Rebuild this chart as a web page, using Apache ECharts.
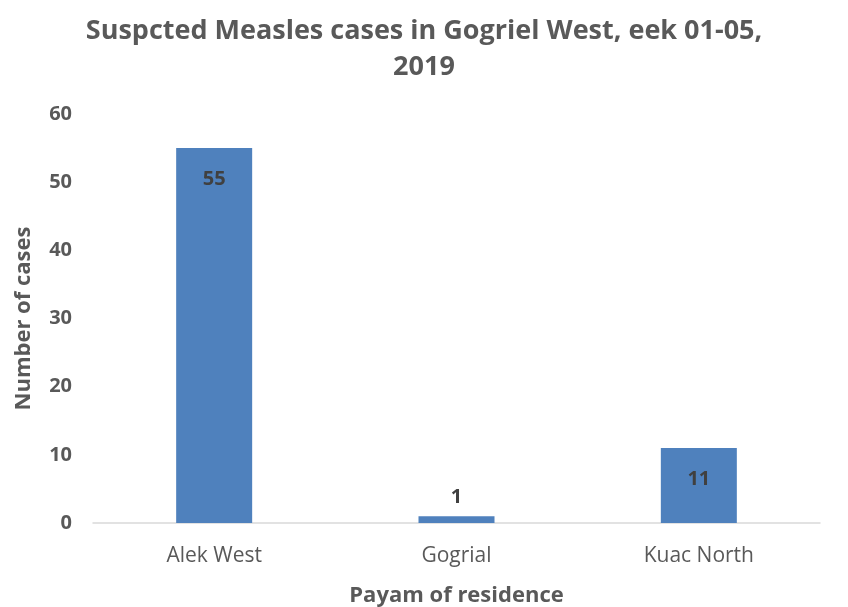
<!DOCTYPE html>
<html><head><meta charset="utf-8">
<script src="https://cdn.jsdelivr.net/npm/echarts@6/dist/echarts.min.js"></script>
<style>html,body{margin:0;padding:0;background:#fff}#c{width:848px;height:607px}</style>
</head><body><div id="c"></div>
<script>
const categories = ['Alek West', 'Gogrial', 'Kuac North'];
const cases = [55, 1, 11];
const yTicks = [0, 10, 20, 30, 40, 50, 60];

const FONT = 'Open Sans';
const chart = echarts.init(document.getElementById('c'));
chart.setOption({
  animation: false,
  title: {
    text: 'Suspcted Measles cases in Gogriel West, eek 01-05,\n2019',
    left: 'center', top: 8,
    textStyle: {fontFamily: FONT, fontSize: 27, fontWeight: 'bold', color: '#595959', lineHeight: 36}
  },
  grid: {left: 93, right: 28, top: 114, bottom: 84, containLabel: false, outerBoundsMode: 'none'},
  xAxis: {
    type: 'category', data: categories,
    name: 'Payam of residence', nameLocation: 'middle', nameGap: 62,
    nameTextStyle: {fontFamily: FONT, fontSize: 22, fontWeight: 'bold', color: '#595959'},
    axisLine: {lineStyle: {color: '#d9d9d9', width: 1.5}},
    axisTick: {show: false},
    axisLabel: {fontFamily: FONT, fontSize: 21, color: '#595959', margin: 23}
  },
  yAxis: {
    type: 'value', min: yTicks[0], max: yTicks[yTicks.length - 1], interval: 10,
    name: 'Number of cases', nameLocation: 'middle', nameGap: 58,
    nameTextStyle: {fontFamily: FONT, fontSize: 22, fontWeight: 'bold', color: '#595959'},
    axisLine: {show: false}, axisTick: {show: false},
    splitLine: {show: false},
    axisLabel: {fontFamily: FONT, fontSize: 20, fontWeight: 'bold', color: '#595959', margin: 21}
  },
  series: [{
    type: 'bar', barWidth: 76,
    data: cases.map(v => v < 5 ? {value: v, label: {position: 'top', distance: 9}} : v),
    itemStyle: {color: '#4f81bd'},
    label: {
      show: true, fontFamily: FONT, fontSize: 20, fontWeight: 'bold', color: '#404040',
      position: 'insideTop', distance: 21,
      formatter: p => String(p.value)
    }
  }]
});
</script>
</body></html>
